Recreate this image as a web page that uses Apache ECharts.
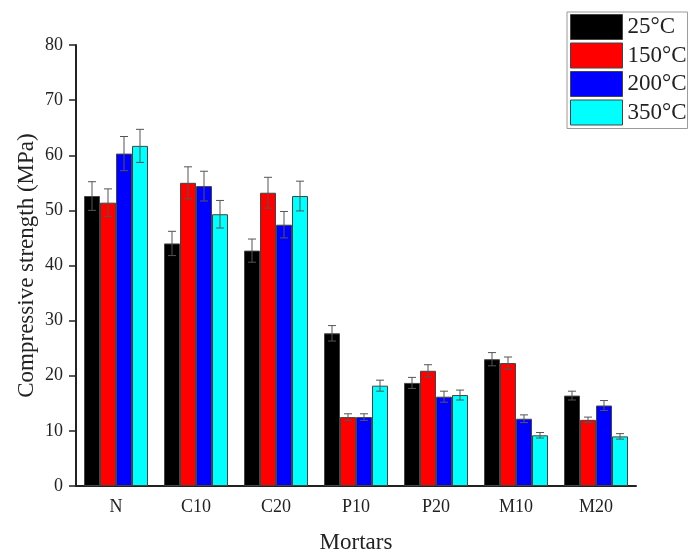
<!DOCTYPE html>
<html>
<head>
<meta charset="utf-8">
<script src="https://cdn.jsdelivr.net/npm/echarts@6/dist/echarts.min.js"></script>
<style>html,body{margin:0;padding:0;background:#fff}#c{width:698px;height:554px}</style>
</head>
<body>
<div id="c"></div>
<script>
var categories = ['N','C10','C20','P10','P20','M10','M20'];
var seriesNames = ['25°C','150°C','200°C','350°C'];
var v25  = [52.6,44.0,42.7,27.7,18.7,23.0,16.4];
var v150 = [51.4,55.0,53.2,12.5,20.9,22.3,12.0];
var v200 = [60.3,54.4,47.4,12.5,16.2,12.2,14.6];
var v350 = [61.7,49.3,52.6,18.2,16.5,9.2,9.0];
var e25  = [2.6,2.2,2.1,1.4,1.0,1.2,0.8];
var e150 = [2.5,2.9,2.8,0.6,1.1,1.1,0.5];
var e200 = [3.1,2.7,2.4,0.6,1.0,0.7,0.9];
var e350 = [3.0,2.5,2.7,1.0,0.9,0.5,0.5];
var yTicks = [0,10,20,30,40,50,60,70,80];

var values = [v25,v150,v200,v350];
var errs = [e25,e150,e200,e350];
var colors = ['#000000','#ff0000','#0000ff','#00ffff'];
var FONT = "'Liberation Serif', 'DejaVu Serif', serif";
var catGap = 0.2;

var series = [];
values.forEach(function(v,i){
  series.push({
    name: seriesNames[i], type:'bar', data:v, barGap:'0%', barCategoryGap:'20%',
    itemStyle:{color:colors[i], borderColor:'#444', borderWidth:1},
    emphasis:{disabled:true}
  });
});
var errData = [];
values.forEach(function(v,i){
  v.forEach(function(val,j){ errData.push([j,val,errs[i][j],i]); });
});
series.push({
  type:'custom', name:'err', data:errData, z:10, silent:true,
  encode:{x:0,y:1},
  renderItem:function(params,api){
    var ci=api.value(0), val=api.value(1), e=api.value(2), si=api.value(3);
    var band=api.size([1,0])[0];
    var bw=band*(1-catGap)/4;
    var c=api.coord([ci,val]);
    var x=c[0]+(si-1.5)*bw;
    var yT=api.coord([ci,val+e])[1];
    var yB=api.coord([ci,val-e])[1];
    var hw=4;
    var st={stroke:'#555',lineWidth:1};
    return {type:'group',children:[
      {type:'line',shape:{x1:x,y1:yT,x2:x,y2:yB},style:st},
      {type:'line',shape:{x1:x-hw,y1:yT,x2:x+hw,y2:yT},style:st},
      {type:'line',shape:{x1:x-hw,y1:yB,x2:x+hw,y2:yB},style:st}
    ]};
  }
});

var chart = echarts.init(document.getElementById('c'));
chart.setOption({
  animation:false,
  backgroundColor:'#fff',
  textStyle:{fontFamily:FONT},
  grid:{left:76,right:62,top:45,bottom:68,containLabel:false,outerBoundsMode:'none'},
  legend:{
    data:seriesNames, orient:'vertical', left:567, top:12,
    itemWidth:52, itemHeight:25, itemGap:2.5, icon:'rect',
    padding:[2,1,3,3], borderColor:'#999', borderWidth:1,
    textStyle:{fontFamily:FONT,fontSize:23,color:'#222',lineHeight:25,padding:[0,0,0,0]},
    itemStyle:{borderColor:'#444',borderWidth:1},
    selectedMode:false
  },
  xAxis:{
    type:'category', data:categories,
    name:'Mortars', nameLocation:'middle', nameGap:45, nameMoveOverlap:false,
    nameTextStyle:{fontFamily:FONT,fontSize:23,color:'#222'},
    axisLine:{lineStyle:{color:'#222',width:2}},
    axisTick:{alignWithLabel:true,length:7,lineStyle:{color:'#222',width:1.5}},
    axisLabel:{fontFamily:FONT,fontSize:18,color:'#222',margin:12}
  },
  yAxis:{
    type:'value', min:yTicks[0], max:yTicks[yTicks.length-1], interval:10,
    name:'Compressive strength (MPa)', nameLocation:'middle', nameGap:38, nameMoveOverlap:false,
    nameTextStyle:{fontFamily:FONT,fontSize:23,color:'#222'},
    axisLine:{show:true,lineStyle:{color:'#222',width:2}},
    axisTick:{show:true,length:7,lineStyle:{color:'#222',width:1.5}},
    axisLabel:{fontFamily:FONT,fontSize:18,color:'#222',margin:13},
    splitLine:{show:false}
  },
  series:series
});
</script>
</body>
</html>
